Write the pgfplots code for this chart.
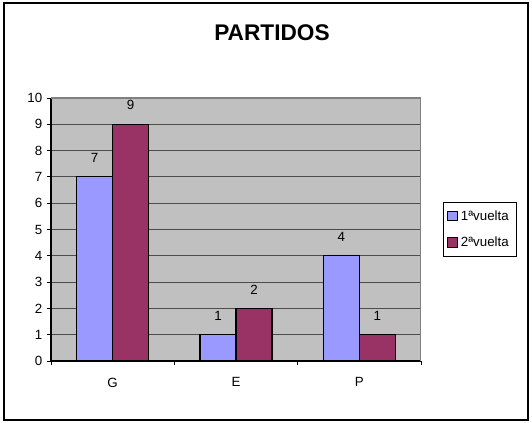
\documentclass[border=0pt]{standalone}
\usepackage{fontspec}
\setmainfont{Liberation Sans}
\usepackage{pgfplots}
\pgfplotsset{compat=1.18}
\definecolor{plotbg}{HTML}{C0C0C0}
\definecolor{serA}{HTML}{9999FF}
\definecolor{serB}{HTML}{993366}
\begin{document}
\begin{tikzpicture}[x=0.75pt,y=0.75pt]
\useasboundingbox (-51,-62) rectangle (481,361);
\draw[black, line width=0.8pt] (-47,-59) rectangle (477,358);
\begin{axis}[
  at={(0,0)}, anchor=south west,
  scale only axis, width=277.5pt, height=197.25pt,
  ymin=0, ymax=10, ytick={0,1,...,10},
  xmin=-0.5, xmax=2.5,
  xtick={-0.5,0.5,1.5,2.5}, xticklabels={},
  extra x ticks={0,1,2}, extra x tick labels={G,E,P},
  extra x tick style={major tick length=0pt, xticklabel style={yshift=-9pt}},
  axis x line=bottom, axis y line=left, axis line style={-, black, line width=0.8pt},
  ymajorgrids, grid style={black!70, line width=0.7pt},
  tick align=outside, major tick length=3pt, tick style={black, line width=0.7pt},
  tick label style={font=\fontsize{10}{11}\selectfont},
  /pgf/number format/assume math mode=true,
  axis background/.style={fill=plotbg},
  ybar=0pt, bar width=27pt,
  nodes near coords,
  every node near coord/.append style={font=\fontsize{10}{11}\selectfont, yshift=7pt, black},
  legend style={at={(1.0595,0.6046)}, anchor=north west, draw=black, line width=0.6pt,
    font=\fontsize{10}{11}\selectfont, inner xsep=3pt, inner ysep=4pt, row sep=7pt,
    nodes={inner xsep=2.5pt}},
  legend cell align=left,
  legend image code/.code={\draw[#1, draw=black, line width=0.6pt] (0pt,-3.5pt) rectangle (7pt,3.5pt);},
]
\addplot[fill=serA, draw=black, line width=0.9pt] coordinates {(0,7) (1,1) (2,4)};
\addplot[fill=serB, draw=black, line width=0.9pt] coordinates {(0,9) (1,2) (2,1)};
\legend{1ªvuelta, 2ªvuelta}
\draw[gray, line width=1.1pt] (rel axis cs:0,1) -- (rel axis cs:1,1) -- (rel axis cs:1,0);
\end{axis}
\node[font=\bfseries\fontsize{17}{19}\selectfont] at (221,328) {PARTIDOS};
\end{tikzpicture}
\end{document}
